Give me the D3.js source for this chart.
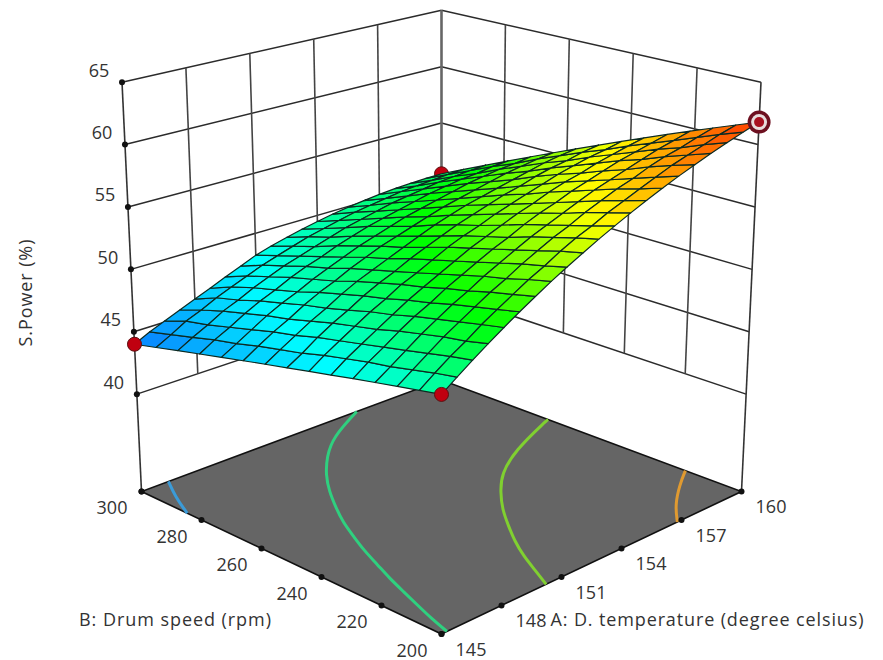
<!DOCTYPE html>
<html><head><meta charset="utf-8"><script src="https://cdn.jsdelivr.net/npm/d3@7"></script>
<style>html,body{margin:0;background:#fff}svg{display:block}text{font-family:"Open Sans",sans-serif;fill:#333}</style></head>
<body><svg id="c" width="883" height="660"></svg>
<script>
const aTicks=[145,148,151,154,157,160];
const bTicks=[300,280,260,240,220,200];
const zTicks=[40,45,50,55,60,65];
const Zfloor=32.2;
// S.Power: rows run B = 200 to 300 rpm, columns A = 145 to 160 deg C
const surfaceZ=[
[49.7,50.53,51.33,52.11,52.87,53.61,54.32,55.02,55.67,56.31,56.93,57.52,58.09,58.63,59.16,59.66,60.13,60.59,61.01,61.42,61.8],
[49.36,50.2,51.0,51.7,52.5,53.2,53.9,54.6,55.2,55.9,56.5,57.0,57.6,58.1,58.6,59.1,59.6,60.0,60.4,60.8,61.13],
[49.01,49.8,50.6,51.4,52.1,52.8,53.5,54.1,54.8,55.4,56.0,56.5,57.1,57.6,58.1,58.5,59.0,59.4,59.7,60.1,60.44],
[48.65,49.4,50.2,51.0,51.7,52.4,53.0,53.7,54.3,54.9,55.5,56.0,56.5,57.0,57.5,57.9,58.3,58.7,59.1,59.4,59.73],
[48.28,49.1,49.8,50.6,51.3,51.9,52.6,53.2,53.8,54.4,54.9,55.5,56.0,56.4,56.9,57.3,57.7,58.1,58.4,58.7,59.0],
[47.89,48.7,49.4,50.1,50.8,51.5,52.1,52.7,53.3,53.9,54.4,54.9,55.4,55.8,56.3,56.7,57.0,57.4,57.7,58.0,58.25],
[47.5,48.3,49.0,49.7,50.4,51.0,51.7,52.2,52.8,53.4,53.9,54.3,54.8,55.2,55.6,56.0,56.4,56.7,57.0,57.2,57.47],
[47.1,47.8,48.6,49.3,49.9,50.6,51.2,51.7,52.3,52.8,53.3,53.8,54.2,54.6,55.0,55.3,55.7,56.0,56.2,56.5,56.67],
[46.69,47.4,48.1,48.8,49.4,50.1,50.7,51.2,51.7,52.2,52.7,53.2,53.6,54.0,54.3,54.6,54.9,55.2,55.5,55.7,55.86],
[46.27,47.0,47.7,48.3,49.0,49.6,50.1,50.7,51.2,51.7,52.1,52.5,52.9,53.3,53.6,53.9,54.2,54.5,54.7,54.9,55.02],
[45.83,46.5,47.2,47.9,48.5,49.0,49.6,50.1,50.6,51.1,51.5,51.9,52.3,52.6,52.9,53.2,53.5,53.7,53.9,54.0,54.16],
[45.39,46.1,46.7,47.4,48.0,48.5,49.1,49.6,50.0,50.5,50.9,51.3,51.6,51.9,52.2,52.5,52.7,52.9,53.0,53.2,53.28],
[44.94,45.6,46.2,46.9,47.4,48.0,48.5,49.0,49.4,49.8,50.2,50.6,50.9,51.2,51.5,51.7,51.9,52.1,52.2,52.3,52.37],
[44.47,45.1,45.8,46.3,46.9,47.4,47.9,48.4,48.8,49.2,49.6,49.9,50.2,50.5,50.7,50.9,51.1,51.2,51.3,51.4,51.45],
[44.0,44.6,45.1,45.6,46.1,46.6,47.15,47.65,48.18,48.56,48.9,49.21,49.48,49.73,49.94,50.11,50.26,50.37,50.44,50.49,50.5]
];
const designPts=[[145,300,44],[145,200,49.7],[160,300,50.5]];
const peak=[160,200,61.8];
const contourLevels=[45,50,55,60];
const contourColors=["#3b9bd8","#2fd07f","#80d030","#e09a30"];

const grid=surfaceZ,NB=grid.length,NA=grid[0].length;
const svg=d3.select("#c");
const U=d3.scaleLinear().domain([145,160]).range([0,1]);
const V=d3.scaleLinear().domain([200,300]).range([0,1]);
const T=d3.scaleLinear().domain([Zfloor,65]).range([0,1]);
function P(u,v,z){
 const fx=441.5+300*(u-v), fy=634-142.5*(u+v)+31*u*v;
 const h=13.69-1.21*(u+v);
 return [441.5+(fx-441.5)*(1+0.065*T(z)), fy-h*(z-Zfloor)];
}
const color=d3.scaleLinear().domain([43.6,48.2,52.75,57.3,61.9]).range(["#0a70ff","#00ffff","#00ff00","#ffff00","#ff3000"]).clamp(true);
const line=d3.line();
const seg=(a,b,c,w)=>svg.append("line").attr("x1",a[0]).attr("y1",a[1]).attr("x2",b[0]).attr("y2",b[1]).attr("stroke",c).attr("stroke-width",w);
const GH="#2b2b2b",GV="#444";
zTicks.forEach(z=>{seg(P(0,1,z),P(1,1,z),GH,1.5);seg(P(1,1,z),P(1,0,z),GH,1.5);});
aTicks.slice(1,-1).forEach(a=>seg(P(U(a),1,40),P(U(a),1,65),GV,1.6));
bTicks.slice(1,-1).forEach(b=>seg(P(1,V(b),40),P(1,V(b),65),GV,1.6));
seg(P(0,1,Zfloor),P(0,1,65),"#333",1.6);
seg(P(1,0,Zfloor),P(1,0,65),"#333",1.6);
seg(P(1,1,Zfloor),P(1,1,65),"#666",2.6);
svg.append("path").attr("d",line([P(0,0,Zfloor),P(1,0,Zfloor),P(1,1,Zfloor),P(0,1,Zfloor)])+"Z").attr("fill","#656565").attr("stroke","#111").attr("stroke-width",1.6);
contourLevels.forEach((lv,k)=>{
 const pts=[];
 for(let j=0;j<NB;j++)for(let i=0;i<NA-1;i++){const a=grid[j][i],b=grid[j][i+1];if((a<lv)!==(b<lv))pts.push([(i+(lv-a)/(b-a))/(NA-1),j/(NB-1)]);}
 for(const i of [0,NA-1])for(let j=0;j<NB-1;j++){const a=grid[j][i],b=grid[j+1][i];if((a<lv)!==(b<lv))pts.push([i/(NA-1),(j+(lv-a)/(b-a))/(NB-1)]);}
 pts.sort((p,q)=>p[1]-q[1]);
 svg.append("path").attr("d",d3.line().curve(d3.curveBasis)(pts.map(p=>P(p[0],p[1],Zfloor)))).attr("fill","none").attr("stroke",contourColors[k]).attr("stroke-width",3);
});
const dot=p=>svg.append("circle").attr("cx",p[0]).attr("cy",p[1]).attr("r",3).attr("fill","#111");
zTicks.forEach(z=>dot(P(0,1,z)));dot(P(0,1,Zfloor));
bTicks.forEach(b=>dot(P(0,V(b),Zfloor)));
aTicks.forEach(a=>dot(P(U(a),0,Zfloor)));
const marker=(a,b,z)=>{const p=P(U(a),V(b),z);svg.append("circle").attr("cx",p[0]).attr("cy",p[1]).attr("r",7).attr("fill","#c00010").attr("stroke","#5a1010").attr("stroke-width",1);};
marker(...designPts[2]);
const cells=[];
for(let j=NB-2;j>=0;j--)for(let i=0;i<NA-1;i++){
 const zs=[grid[j][i],grid[j][i+1],grid[j+1][i+1],grid[j+1][i]];
 const pts=[P(i/(NA-1),j/(NB-1),zs[0]),P((i+1)/(NA-1),j/(NB-1),zs[1]),P((i+1)/(NA-1),(j+1)/(NB-1),zs[2]),P(i/(NA-1),(j+1)/(NB-1),zs[3])];
 cells.push({pts,z:d3.mean(zs)});
}
svg.append("g").selectAll("path").data(cells).join("path").attr("d",d=>line(d.pts)+"Z").attr("fill",d=>color(d.z)).attr("stroke","#0c2a22").attr("stroke-width",1.2).attr("stroke-linejoin","round");
marker(...designPts[0]);marker(...designPts[1]);
{const p=P(U(peak[0]),V(peak[1]),peak[2]);
 [[11.5,"#6e1020"],[8,"#e8dcdc"],[5,"#a81020"]].forEach(([r,c])=>svg.append("circle").attr("cx",p[0]).attr("cy",p[1]).attr("r",r).attr("fill",c));}
const txt=(x,y,s,len,rot)=>{const t=svg.append("text").attr("text-anchor","middle").attr("dominant-baseline","central").attr("font-size",18).text(s);
 if(len)t.attr("textLength",len).attr("lengthAdjust","spacing");
 if(rot)t.attr("transform",`translate(${x},${y}) rotate(-90)`);else t.attr("x",x).attr("y",y);return t;};
zTicks.forEach(z=>{const p=P(0,1,z);txt(p[0]-23,p[1]-12.5,z);});
bTicks.forEach(b=>{const p=P(0,V(b),Zfloor);txt(p[0]-29.5,p[1]+15.5,b);});
aTicks.forEach(a=>{const p=P(U(a),0,Zfloor);txt(p[0]+29.5,p[1]+14.5,a);});
txt(25,293,"S.Power (%)",107,true);
txt(175,619,"B: Drum speed (rpm)",192);
txt(707,619,"A: D. temperature (degree celsius)",313);
</script></body></html>
